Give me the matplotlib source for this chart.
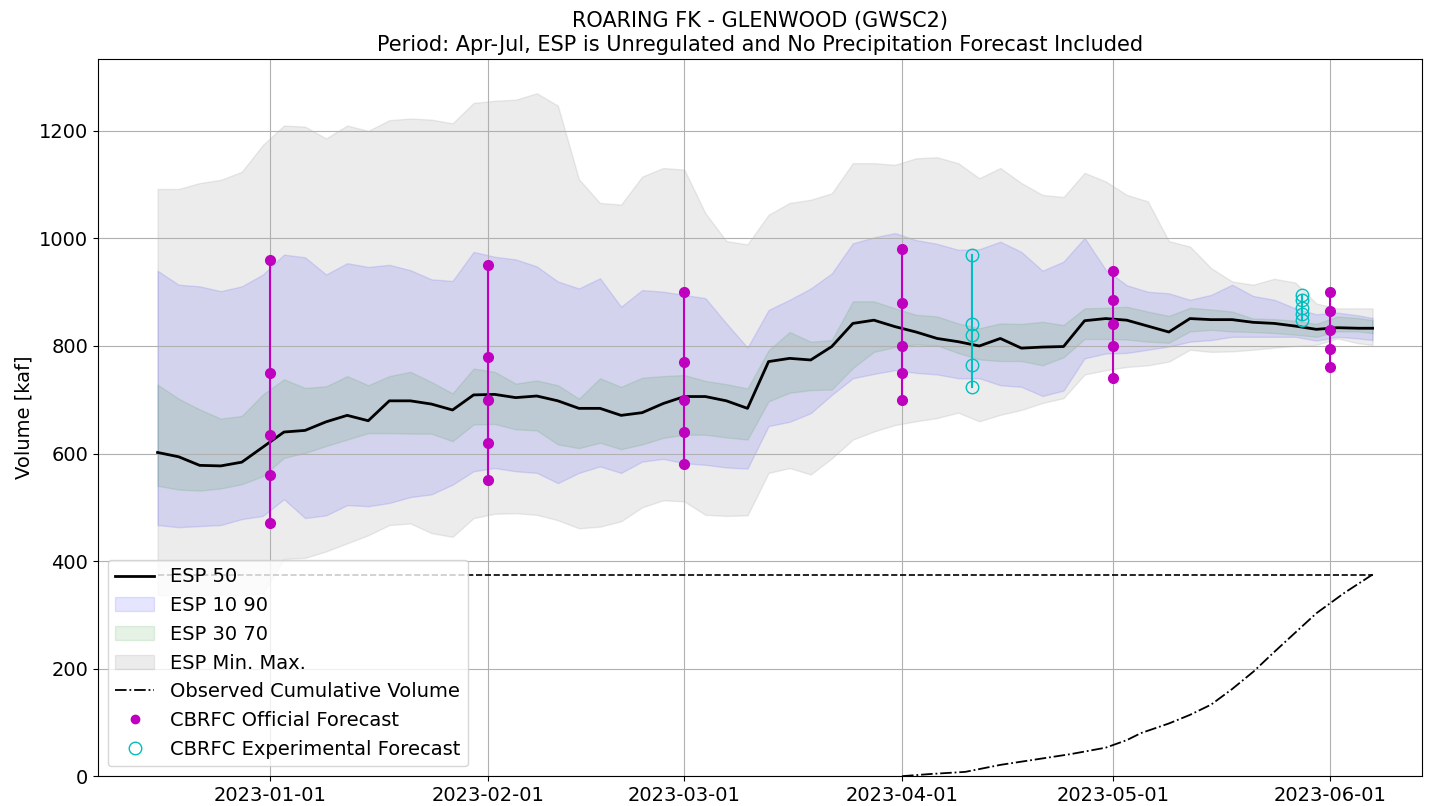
import numpy as np
import pandas as pd
import matplotlib
matplotlib.use('Agg')
import matplotlib.pyplot as plt
import matplotlib.dates as mdates
from matplotlib.lines import Line2D
from matplotlib.patches import Patch

# ESP traces, sampled every 3 days (kaf)
dates = list(pd.date_range('2022-12-16', '2023-06-05', freq='3D')) + [pd.Timestamp('2023-06-07')]

esp_max = [1092, 1092, 1103, 1109, 1124, 1174,
           1210, 1208, 1186, 1210, 1200, 1220, 1223, 1221, 1214, 1252,
           1256, 1258, 1270, 1247, 1110, 1066, 1063, 1115, 1131,
           1128, 1047, 995, 989, 1044, 1066, 1072, 1084, 1140, 1140, 1137,
           1149, 1151, 1140, 1112, 1131, 1103, 1081, 1077, 1122, 1106,
           1081, 1069, 995, 985, 945, 920, 914, 925, 918, 879,
           870, 870, 870]
esp_90 = [940, 914, 911, 902, 911, 933,
          970, 965, 933, 954, 947, 951, 941, 924, 921, 975,
          966, 961, 948, 920, 907, 926, 873, 904, 901,
          895, 889, 842, 797, 867, 886, 907, 935, 991, 1002, 1010,
          997, 990, 979, 980, 994, 975, 940, 957, 1001, 942,
          913, 901, 898, 886, 895, 914, 893, 886, 870, 859,
          862, 857, 852]
esp_70 = [728, 702, 682, 665, 670, 710,
          738, 722, 725, 744, 727, 744, 752, 733, 712, 758,
          752, 730, 736, 727, 702, 740, 724, 741, 744,
          746, 735, 729, 721, 792, 826, 808, 811, 883, 883, 870,
          858, 855, 842, 833, 842, 841, 845, 839, 870, 871,
          873, 864, 856, 871, 868, 864, 851, 850, 847, 841,
          855, 852, 848]
esp_50 = [602, 594, 578, 577, 584, 612,
          640, 643, 659, 671, 661, 698, 698, 692, 681, 709,
          710, 704, 707, 698, 684, 684, 671, 676, 693,
          706, 706, 698, 684, 771, 777, 774, 799, 842, 848, 836,
          826, 814, 808, 800, 814, 796, 798, 799, 847, 851,
          848, 837, 826, 851, 849, 849, 844, 842, 837, 831,
          834, 833, 833]
esp_30 = [540, 533, 531, 535, 543, 558,
          592, 601, 614, 626, 638, 638, 637, 637, 623, 654,
          655, 645, 643, 617, 610, 620, 608, 617, 629,
          635, 635, 630, 626, 697, 713, 718, 719, 759, 789, 798,
          803, 801, 787, 775, 772, 772, 764, 779, 813, 813,
          812, 808, 806, 827, 830, 827, 826, 824, 821, 817,
          827, 827, 824]
esp_10 = [467, 463, 465, 467, 478, 484,
          515, 480, 485, 504, 502, 508, 519, 524, 542, 567,
          573, 567, 564, 545, 564, 576, 564, 585, 590,
          582, 579, 574, 572, 651, 659, 675, 709, 740, 748, 755,
          750, 747, 740, 740, 727, 724, 707, 717, 777, 786,
          787, 793, 799, 808, 811, 817, 817, 817, 817, 810,
          817, 814, 811]
esp_min = [337, 337, 337, 337, 337, 340,
           404, 406, 418, 433, 448, 467, 470, 452, 445, 480,
           488, 489, 486, 476, 461, 464, 474, 500, 513,
           511, 486, 484, 485, 564, 573, 561, 591, 626, 641, 653,
           660, 666, 676, 660, 672, 681, 694, 703, 747, 755,
           761, 764, 771, 793, 789, 790, 793, 797, 800, 802,
           814, 805, 802]

# observed cumulative volume
obs_dates = pd.to_datetime(['2023-04-01', '2023-04-05', '2023-04-10', '2023-04-15', '2023-04-20',
                            '2023-04-25', '2023-04-30', '2023-05-03', '2023-05-05', '2023-05-09',
                            '2023-05-12', '2023-05-15', '2023-05-18', '2023-05-21', '2023-05-24',
                            '2023-05-27', '2023-05-30', '2023-06-01', '2023-06-03', '2023-06-05',
                            '2023-06-07'])
obs_vol = [0, 4, 8, 21, 31, 41, 53, 67, 80, 98, 114, 133, 162, 194, 231, 267, 303, 322, 341, 358, 375]
obs_total = 375

# CBRFC forecasts
off_dates = pd.to_datetime(['2023-01-01', '2023-02-01', '2023-03-01', '2023-04-01', '2023-05-01', '2023-06-01'])
off_vals = [[960, 750, 635, 560, 470],
            [950, 780, 700, 620, 550],
            [900, 770, 700, 640, 580],
            [980, 880, 800, 750, 700],
            [940, 885, 840, 800, 740],
            [900, 865, 830, 795, 760]]
exp_dates = pd.to_datetime(['2023-04-11', '2023-05-28'])
exp_vals = [[970, 840, 820, 765, 723],
            [895, 885, 870, 860, 848]]

plt.rcParams.update({'font.size': 14})
fig, ax = plt.subplots(figsize=(14.39, 8.06), dpi=100)
fig.subplots_adjust(left=0.068, right=0.988, top=0.927, bottom=0.037)

ax.fill_between(dates, esp_min, esp_max, color='gray', alpha=0.15)
ax.fill_between(dates, esp_10, esp_90, color='blue', alpha=0.1)
ax.fill_between(dates, esp_30, esp_70, color='green', alpha=0.1)
ax.plot(dates, esp_50, c='k', lw=2)

ax.plot(obs_dates, obs_vol, 'k-.', lw=1.3)
ax.plot(dates, [obs_total]*len(dates), 'k--', lw=1.2)

for d, v in zip(off_dates, off_vals):
    ax.plot([d]*len(v), v, 'm-', lw=1.5)
    ax.plot([d]*len(v), v, 'mo', ms=7)
for d, v in zip(exp_dates, exp_vals):
    ax.plot([d]*len(v), v, 'c-', lw=1.5)
    ax.plot([d]*len(v), v, 'o', mfc='none', mec='c', ms=9)

handles = [Line2D([], [], c='k', lw=2),
           Patch(facecolor='blue', edgecolor='blue', alpha=0.1),
           Patch(facecolor='green', edgecolor='green', alpha=0.1),
           Patch(facecolor='gray', edgecolor='gray', alpha=0.15),
           Line2D([], [], c='k', ls='-.', lw=1.3),
           Line2D([], [], c='m', marker='o', ls='none', ms=6),
           Line2D([], [], mec='c', mfc='none', marker='o', ls='none', ms=9)]
labels = ['ESP 50', 'ESP 10 90', 'ESP 30 70', 'ESP Min. Max.', 'Observed Cumulative Volume',
          'CBRFC Official Forecast', 'CBRFC Experimental Forecast']
ax.legend(handles, labels, loc='lower left')

ax.xaxis.set_major_locator(mdates.MonthLocator())
ax.xaxis.set_major_formatter(mdates.DateFormatter('%Y-%m-%d'))
ax.set_xlim(pd.Timestamp('2022-12-07 12:00'), pd.Timestamp('2023-06-14'))
ax.set_ylim(0, 1334)
ax.grid(True)
ax.set_ylabel('Volume [kaf]')
ax.set_title('ROARING FK - GLENWOOD (GWSC2)\nPeriod: Apr-Jul, ESP is Unregulated and No Precipitation Forecast Included',
             fontsize=15)

fig.savefig('out.png', dpi=100)
